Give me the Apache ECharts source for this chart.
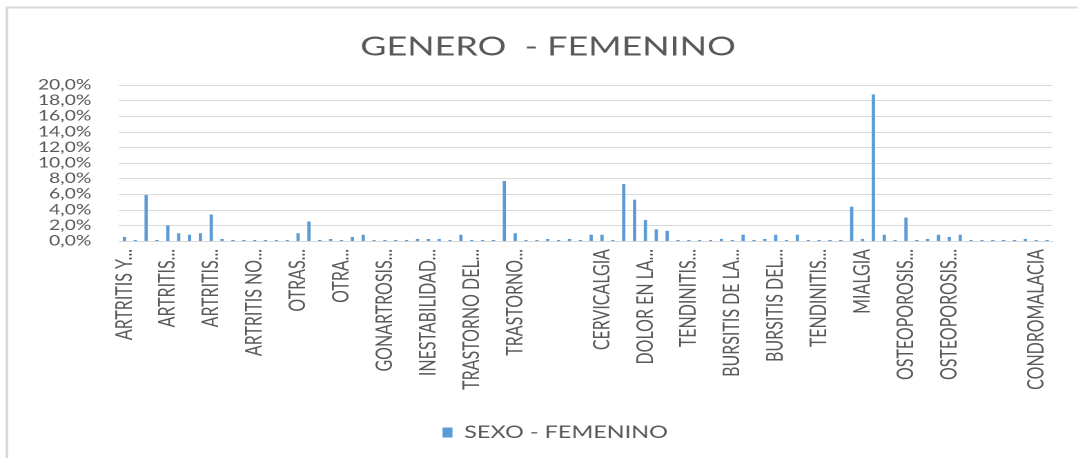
<!DOCTYPE html>
<html>
<head>
<meta charset="utf-8">
<title>GENERO - FEMENINO</title>
<script src="https://cdn.jsdelivr.net/npm/echarts@6/dist/echarts.min.js"></script>
<style>
  html, body { margin: 0; padding: 0; background: #ffffff; overflow: hidden; }
  #wrap { width: 1078px; height: 458px; overflow: hidden; }
  /* the chart is laid out narrow and widened horizontally */
  #chart { width: 781px; height: 458px; transform: scaleX(1.3803); transform-origin: 0 0; }
</style>
</head>
<body>
<div id="wrap"><div id="chart"></div></div>
<script>
// Category tick labels, one every fourth category
const tickLabels = [
  'ARTRITIS Y...', 'ARTRITIS...', 'ARTRITIS...', 'ARTRITIS NO...',
  'OTRAS...', 'OTRA...', 'GONARTROSIS...', 'INESTABILIDAD...',
  'TRASTORNO DEL...', 'TRASTORNO...', '', 'CERVICALGIA',
  'DOLOR EN LA...', 'TENDINITIS...', 'BURSITIS DE LA...', 'BURSITIS DEL...',
  'TENDINITIS...', 'MIALGIA', 'OSTEOPOROSIS...', 'OSTEOPOROSIS...',
  '', 'CONDROMALACIA'
];
const labelStep = 4;

// Share of female patients per diagnosis (%)
const femenino = [
  0.52, 0.13, 5.9, 0.13, 2.0, 1.0, 0.8, 1.0, 3.4, 0.26,
  0.13, 0.13, 0.13, 0.13, 0.13, 0.13, 1.0, 2.5, 0.13, 0.26,
  0.13, 0.52, 0.8, 0.13, 0.13, 0.13, 0.13, 0.26, 0.26, 0.26,
  0.13, 0.8, 0.13, 0.13, 0.13, 7.7, 1.0, 0.13, 0.13, 0.26,
  0.13, 0.26, 0.13, 0.8, 0.8, 0.13, 7.3, 5.3, 2.7, 1.5,
  1.3, 0.13, 0.13, 0.13, 0.13, 0.26, 0.13, 0.8, 0.13, 0.26,
  0.8, 0.13, 0.8, 0.13, 0.13, 0.13, 0.13, 4.4, 0.26, 18.8,
  0.8, 0.13, 3.0, 0.13, 0.26, 0.8, 0.52, 0.8, 0.13, 0.13,
  0.13, 0.13, 0.13, 0.26, 0.13, 0.13
];

// Y axis ticks (%)
const yMin = 0, yMax = 20, yStep = 2;

const categories = femenino.map((_, i) =>
  i % labelStep === 0 ? (tickLabels[i / labelStep] || '') : '');

const FONT = 'Lato, "Open Sans", "Noto Sans", sans-serif';
const TEXT = '#595959';
const GRID = '#d9d9d9';

const chart = echarts.init(document.getElementById('chart'), null, { devicePixelRatio: 2 });
chart.setOption({
  animation: false,
  backgroundColor: '#ffffff',
  title: {
    text: 'GENERO  - FEMENINO',
    left: 261,
    top: 34,
    padding: 0,
    textStyle: { fontFamily: FONT, fontSize: 26, fontWeight: 'normal', color: TEXT }
  },
  legend: {
    data: ['SEXO - FEMENINO'],
    left: 315.6,
    top: 419,
    icon: 'rect',
    itemWidth: 7.2,
    itemHeight: 10,
    textStyle: { fontFamily: FONT, fontSize: 17, color: TEXT, padding: [0, 0, 0, 3.5] }
  },
  grid: { left: 86.2, right: 18.5, top: 85, bottom: 217, containLabel: false },
  xAxis: {
    type: 'category',
    data: categories,
    axisTick: { show: false },
    axisLine: { lineStyle: { color: GRID, width: 1 } },
    axisLabel: {
      interval: labelStep - 1,
      rotate: 90,
      margin: 8,
      fontFamily: FONT,
      fontSize: 16,
      color: TEXT
    }
  },
  yAxis: {
    type: 'value',
    min: yMin,
    max: yMax,
    interval: yStep,
    axisLine: { show: false },
    axisTick: { show: false },
    splitLine: { lineStyle: { color: GRID, width: 1 } },
    axisLabel: {
      margin: 20,
      fontFamily: FONT,
      fontSize: 14,
      color: TEXT,
      formatter: v => v.toFixed(1).replace('.', ',') + '%'
    }
  },
  series: [{
    name: 'SEXO - FEMENINO',
    type: 'bar',
    data: femenino,
    barWidth: '30%',
    itemStyle: { color: '#5b9bd5' }
  }],
  graphic: [{
    type: 'rect',
    silent: true,
    shape: { x: 5, y: 7.5, width: 900, height: 520 },
    style: { fill: 'none', stroke: GRID, lineWidth: 2 }
  }]
});
</script>
</body>
</html>
